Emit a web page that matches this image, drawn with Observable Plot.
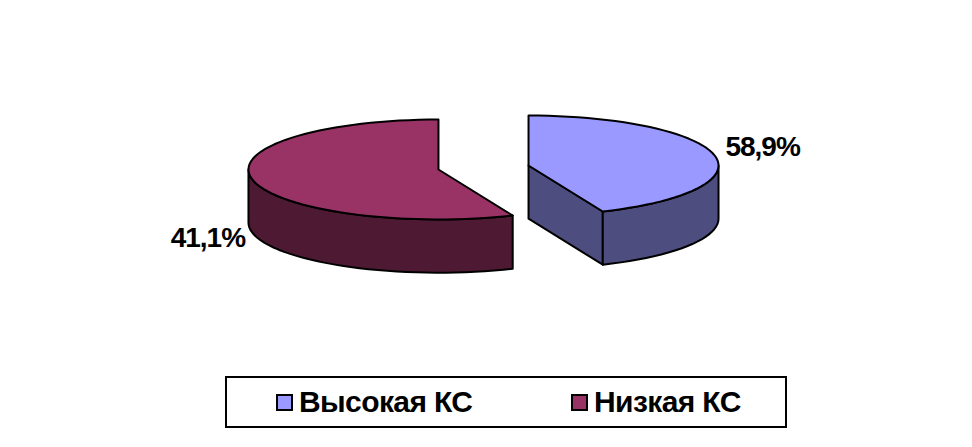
<!DOCTYPE html>
<html>
<head>
<meta charset="utf-8">
<script src="https://cdn.jsdelivr.net/npm/d3@7"></script>
<script src="https://cdn.jsdelivr.net/npm/@observablehq/plot@0.6"></script>
<style>
  html, body { margin: 0; padding: 0; background: #fff; }
  #chart { width: 972px; }
  #chart svg { display: block; }
  .legend {
    box-sizing: border-box; position: absolute; left: 225px; top: 376px;
    width: 562px; height: 52px; border: 2px solid #000; background: #fff;
    font: bold 30px "Liberation Sans", Arial, sans-serif; letter-spacing: -0.6px; color: #000;
  }
  .item { position: absolute; top: 0; height: 48px; display: flex; align-items: center; white-space: nowrap; }
  .sw { box-sizing: border-box; width: 17px; height: 17px; border: 2px solid #000; margin-right: 6px; }
</style>
</head>
<body>
<div id="chart"></div>
<script>
// Chart values
const categories = ["Высокая КС", "Низкая КС"];
const labels = ["58,9%", "41,1%"];
// Sweep of each slice as actually drawn in the reference, degrees clockwise
// from 12 o'clock (the drawing does not follow the printed percentages).
const sweeps = [157, 203];
const topColors = ["#9999ff", "#993366"];
const sideColors = ["#4d4d80", "#4d1933"];
const explode = [[23.7, 1.05], [-23.7, -1.05]];
const labelAngles = [73.5, 249];
const labelRadii = [1.285, 1.3];
const labelDrops = [0, 24];

// Projection parameters of the tilted pie, in scale units (radius = 100)
const R = 100, tilt = 0.263, depth = 28, step = 3;

const rad = d => d * Math.PI / 180;
const rim = (i, a, k = 1, drop = 0) => ({
  x: explode[i][0] + k * R * Math.sin(rad(a)),
  y: explode[i][1] + k * R * tilt * Math.cos(rad(a)) - drop
});
const arc = (i, a0, a1, drop = 0) => {
  const n = Math.max(1, Math.round(Math.abs(a1 - a0) / step));
  return d3.range(n + 1).map(j => rim(i, a0 + (a1 - a0) * j / n, 1, drop));
};
const apex = (i, drop = 0) => ({ x: explode[i][0], y: explode[i][1] - drop });
const closed = pts => [...pts, pts[0]];

// Slice start/end angles
const starts = [0, sweeps[0]];
const ends = [sweeps[0], sweeps[0] + sweeps[1]];

const faces = [];
// Slice 0 (right): cut wall facing the viewer, curved wall, then top
faces.push({ pts: closed([apex(0), rim(0, ends[0]), rim(0, ends[0], 1, depth), apex(0, depth)]), fill: sideColors[0] });
faces.push({ pts: closed([...arc(0, 90, ends[0]), ...arc(0, ends[0], 90, depth)]), fill: sideColors[0] });
faces.push({ pts: closed([apex(0), ...arc(0, starts[0], ends[0])]), fill: topColors[0] });
// Slice 1 (left): curved wall, then top
faces.push({ pts: closed([...arc(1, starts[1], 270), ...arc(1, 270, starts[1], depth)]), fill: sideColors[1] });
faces.push({ pts: closed([apex(1), ...arc(1, starts[1], ends[1])]), fill: topColors[1] });

const labelRows = labels.map((text, i) => ({
  text,
  ...rim(i, labelAngles[i], labelRadii[i], labelDrops[i])
}));

const plot = Plot.plot({
  width: 972,
  height: 376,
  margin: 0,
  style: { background: "#fff" },
  x: { axis: null, domain: [-100, 100], range: [293, 673] },
  y: { axis: null, domain: [-100, 100], range: [357, -23] },
  marks: [
    ...faces.map(f => Plot.line(f.pts, {
      x: "x", y: "y", fill: f.fill, stroke: "#000", strokeWidth: 2,
      strokeLinejoin: "round", curve: "linear"
    })),
    Plot.text(labelRows, {
      x: "x", y: "y", text: "text", fill: "#000", textAnchor: "middle",
      fontFamily: "Liberation Sans, Arial, sans-serif", fontSize: 28, fontWeight: "bold"
    })
  ]
});
plot.querySelectorAll("text").forEach(t => t.style.letterSpacing = "-1px");
document.getElementById("chart").appendChild(plot);

// Legend below the SVG
const legend = document.createElement("div");
legend.className = "legend";
const offsets = [49, 344];
categories.forEach((c, i) => {
  const item = document.createElement("div");
  item.className = "item";
  item.style.left = offsets[i] + "px";
  const sw = document.createElement("span");
  sw.className = "sw";
  sw.style.background = topColors[i];
  item.appendChild(sw);
  item.appendChild(document.createTextNode(c));
  legend.appendChild(item);
});
document.body.appendChild(legend);
</script>
</body>
</html>
